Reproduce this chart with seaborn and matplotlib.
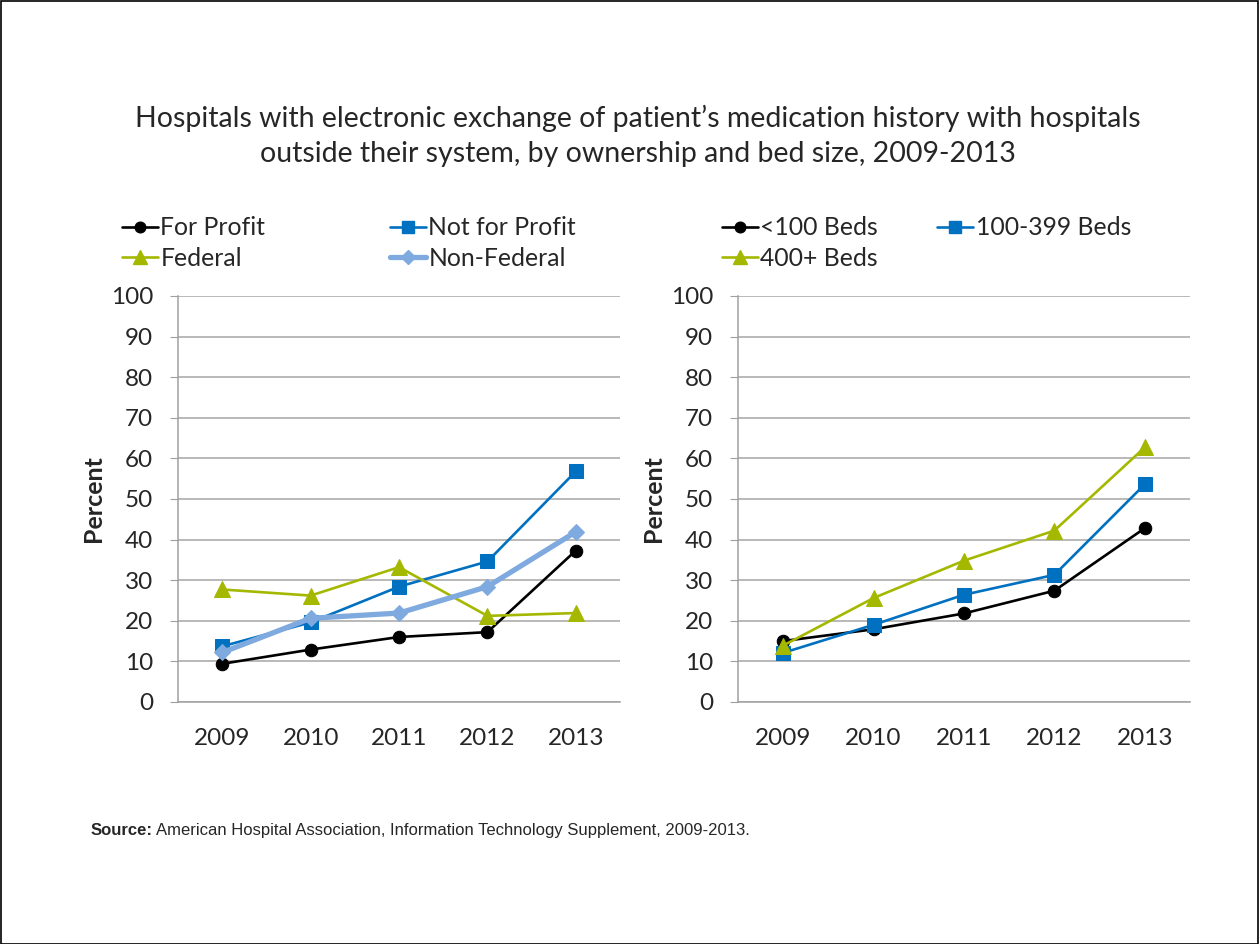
import pandas as pd
import numpy as np
import matplotlib.pyplot as plt
import seaborn as sns
from matplotlib.lines import Line2D
from matplotlib.patches import Rectangle

# ── DATA ─────────────────────────────────────────────────────────
years = ["2009", "2010", "2011", "2012", "2013"]

for_profit = [9.4, 12.9, 16.0, 17.2, 37.3]
not_for_profit = [13.7, 19.6, 28.4, 34.6, 56.8]
federal = [27.7, 26.2, 33.2, 21.2, 21.9]
non_federal = [12.2, 20.6, 21.9, 28.4, 41.9]

beds_lt100 = [15.0, 17.9, 21.8, 27.4, 42.8]
beds_100_399 = [12.1, 19.0, 26.4, 31.3, 53.6]
beds_400 = [13.9, 25.6, 34.8, 42.2, 62.7]

left_names = ["For Profit", "Not for Profit", "Federal", "Non-Federal"]
left_values = [for_profit, not_for_profit, federal, non_federal]
right_names = ["<100 Beds", "100-399 Beds", "400+ Beds"]
right_values = [beds_lt100, beds_100_399, beds_400]

# ── STYLE ────────────────────────────────────────────────────────
sns.set_style("white")
plt.rcParams["font.family"] = ["Lato", "DejaVu Sans"]

BLACK = "#000000"
BLUE = "#0070C0"
OLIVE = "#A5B800"
LIGHT = "#7FAADF"
TICK_FS = 17.5

left_style = {
    "For Profit": dict(color=BLACK, marker="o", ms=9, lw=1.9),
    "Not for Profit": dict(color=BLUE, marker="s", ms=10, lw=1.9),
    "Federal": dict(color=OLIVE, marker="^", ms=11.5, lw=1.9),
    "Non-Federal": dict(color=LIGHT, marker="D", ms=8.5, lw=3.8),
}
right_style = {
    "<100 Beds": dict(color=BLACK, marker="o", ms=9, lw=1.9),
    "100-399 Beds": dict(color=BLUE, marker="s", ms=10, lw=1.9),
    "400+ Beds": dict(color=OLIVE, marker="^", ms=11.5, lw=1.9),
}


def long_df(names, values):
    rows = []
    for n, vals in zip(names, values):
        for i, v in enumerate(vals):
            rows.append({"series": n, "idx": i, "value": v})
    return pd.DataFrame(rows)


fig = plt.figure(figsize=(12.6, 9.44), dpi=100)
fig.patches.append(Rectangle((0.0005, 0.0005), 0.998, 0.998, transform=fig.transFigure,
                             fill=False, edgecolor="black", linewidth=1.2))

fig.text(0.506, 0.856,
         "Hospitals with electronic exchange of patient\u2019s medication history with hospitals\n"
         "outside their system, by ownership and bed size, 2009-2013",
         ha="center", va="center", fontsize=20.5, linespacing=1.45)

ax1 = fig.add_axes([0.1413, 0.2564, 0.3508, 0.4301])
ax2 = fig.add_axes([0.5857, 0.2564, 0.3587, 0.4301])


def draw(ax, names, values, styles):
    df = long_df(names, values)
    for n in names:
        st = styles[n]
        sns.lineplot(data=df[df["series"] == n], x="idx", y="value", ax=ax,
                     color=st["color"], marker=st["marker"], markersize=st["ms"],
                     markeredgecolor=st["color"], linewidth=st["lw"], legend=False)
    ax.set_xlim(-0.5, 4.5)
    ax.set_ylim(0, 100)
    ax.set_yticks(range(0, 101, 10))
    ax.set_xticks(np.arange(-0.5, 4.6, 1.0))
    ax.set_xticklabels([])
    ax.set_xticks(range(5), minor=True)
    ax.set_xticklabels(years, minor=True)
    ax.tick_params(axis="x", which="minor", length=0, pad=19, labelsize=TICK_FS)
    ax.tick_params(axis="x", which="major", length=6, color="#A0A0A0", direction="out")
    ax.tick_params(axis="y", length=6, color="#A0A0A0", direction="out", pad=12,
                   labelsize=TICK_FS, left=True)
    ax.grid(axis="y", color="#A6A6A6", linewidth=1.1)
    ax.set_axisbelow(True)
    for s in ["top", "right"]:
        ax.spines[s].set_visible(False)
    for s in ["left", "bottom"]:
        ax.spines[s].set_color("#A0A0A0")
        ax.spines[s].set_linewidth(1.1)
    ax.set_xlabel("")
    ax.set_ylabel("Percent", fontsize=18, fontweight="bold", labelpad=4)


draw(ax1, left_names, left_values, left_style)
draw(ax2, right_names, right_values, right_style)


def handles(names, styles):
    hs = []
    for n in names:
        st = styles[n]
        hs.append(Line2D([0], [0], color=st["color"], marker=st["marker"],
                         markersize=st["ms"] * 0.85, linewidth=st["lw"], label=n))
    return hs


LEG = dict(ncol=2, frameon=False, loc="upper left", bbox_transform=fig.transFigure,
           fontsize=17.8, handlelength=1.45, handletextpad=0.1, labelspacing=0.32,
           borderaxespad=0, borderpad=0)

# column-wise fill: order so rows read across
lh = handles(left_names, left_style)
ax1.legend(handles=[lh[0], lh[2], lh[1], lh[3]], bbox_to_anchor=(0.0968, 0.771),
           columnspacing=5.05, **LEG)
rh = handles(right_names, right_style)
ax2.legend(handles=[rh[0], rh[2], rh[1]], bbox_to_anchor=(0.573, 0.771),
           columnspacing=2.4, **LEG)

src_bold = fig.text(0.0715, 0.120, "Source:", fontsize=12, fontweight="bold",
                    family="Liberation Sans", va="center")
fig.canvas.draw()
bb = src_bold.get_window_extent()
fig.text((bb.x1 + 4) / fig.bbox.width, 0.120,
         "American Hospital Association, Information Technology Supplement, 2009-2013.",
         fontsize=12, family="Liberation Sans", va="center")

fig.savefig("out.png", dpi=100)
